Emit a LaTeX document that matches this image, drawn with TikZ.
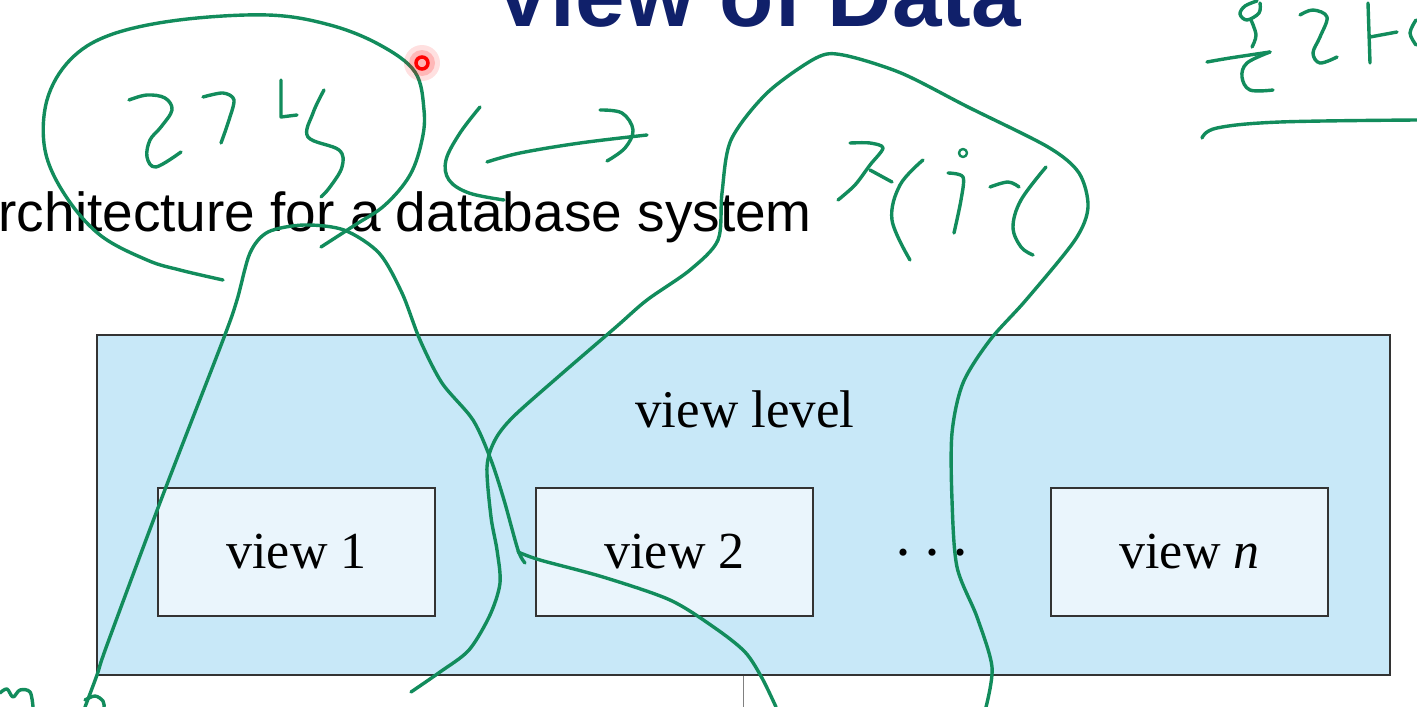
\documentclass[tikz,border=0pt]{standalone}
\usepackage{fontspec}
\setmainfont{Liberation Serif}
\newfontfamily\arialf{Liberation Sans}
\definecolor{boxblue}{HTML}{C8E8F8}
\definecolor{viewfill}{HTML}{EAF5FC}
\definecolor{navy}{HTML}{10206A}
\definecolor{pencolor}{HTML}{128C5C}
\definecolor{inkgray}{HTML}{333333}
\begin{document}
\begin{tikzpicture}[x=1pt,y=-1pt,
  txt/.style={inner sep=0pt},
  levelbox/.style={draw=inkgray, line width=1.8pt, fill=boxblue, minimum width=1293pt, minimum height=340pt, inner sep=0pt},
  viewbox/.style={draw=inkgray, line width=1.6pt, fill=viewfill, minimum width=277pt, minimum height=128pt, inner sep=0pt, font=\fontsize{52}{60}\selectfont},
  pen/.style={draw=pencolor, line width=3.4pt, line cap=round, line join=round},
  stub/.style={draw=gray, line width=1.8pt}]
\useasboundingbox (0,0) rectangle (1417,707);
\clip (0,0) rectangle (1417,707);
\fill[white] (0,0) rectangle (1417,707);

% title and subtitle
\node[txt, anchor=base west, font=\arialf\bfseries\fontsize{89}{90}\selectfont, text=navy] (title) at (493,26) {View of Data};
\node[txt, anchor=base east, font=\arialf\fontsize{55}{60}\selectfont] (sub) at (812,231) {rchitecture for a database system};

% diagram
\node[levelbox] (level) at (743.5,505) {};
\node[txt, anchor=base, font=\fontsize{53}{60}\selectfont] (lvl) at (745,427) {view level};
\node[viewbox] (v1) at (296.5,552) {view 1};
\node[viewbox] (v2) at (674.5,552) {view 2};
\node[viewbox] (vn) at (1189.5,552) {view \textit{n}};
\node[txt, anchor=base, font=\fontsize{60}{60}\selectfont] (dots) at (932,572) {·\hspace{9pt}·\hspace{9pt}·};
\coordinate (stubend) at (743.5,707);
\draw[stub] (level.south) -- (stubend);

% handwritten annotations
% oval around first word
\draw[pen] plot[smooth, tension=0.6] coordinates {(223,280) (180,270) (147,260) (100,235) (65,195) (45,150) (47,100) (70,60) (110,35) (179,20) (268,15) (330,25) (380,45) (415,72) (424,110) (422,140) (410,175) (385,205) (355,225) (321,247)};
% first word
\draw[pen] plot[smooth, tension=0.6] coordinates {(129,100) (147,95) (165,98) (172,110) (161,127) (150,140) (147,157) (156,167) (181,152)};
\draw[pen] plot[smooth, tension=0.5] coordinates {(203,97) (223,93) (234,100) (228,123) (221,143)};
\draw[pen] (281,80) -- (281,117) -- (297,115);
\draw[pen] plot[smooth, tension=0.6] coordinates {(324,90) (313,113) (308,137) (339,150) (342,167) (330,187) (321,197)};
% double arrow
\draw[pen] plot[smooth, tension=0.6] coordinates {(480,107) (460,133) (446,160) (449,180) (469,193) (504,200)};
\draw[pen] plot[smooth, tension=0.6] coordinates {(487,162) (520,153) (580,143) (647,135)};
\draw[pen] plot[smooth, tension=0.6] coordinates {(600,110) (622,113) (633,130) (625,148) (607,161)};
% long stroke from lower left
\draw[pen] plot[smooth, tension=0.5] coordinates {(85,707) (97,675) (107,645) (161,500) (223,340) (237,300) (250,253) (268,232) (304,225) (344,230) (379,253) (402,293) (420,340) (442,383) (473,420) (491,460) (504,500) (518,550) (525,563)};
\draw[pen] plot[smooth, tension=0.5] coordinates {(518,552) (540,560) (603,577) (670,600) (715,628) (745,652) (762,678) (776,707)};
% loop around second word
\draw[pen] plot[smooth, tension=0.5] coordinates {(411,692) (440,672) (469,650) (490,615) (500,583) (497,550) (491,517) (487,467) (495,440) (513,417) (558,377) (616,327) (647,300) (690,270) (718,240) (722,193) (731,140) (767,93) (816,58) (843,55) (901,73) (968,107) (1048,147) (1079,173) (1088,207) (1075,240) (1026,300) (990,340) (963,383) (952,433) (952,500) (957,567) (977,617) (992,667) (986,707)};
% second word
\draw[pen] plot[smooth, tension=0.5] coordinates {(850,143) (870,143) (883,148) (870,165) (855,185) (838,200)};
\draw[pen] (870,170) -- (892,182);
\draw[pen] plot[smooth, tension=0.6] coordinates {(923,160) (900,185) (892,220) (910,260)};
\draw[pen, line width=2.4pt] (963,153) circle (4);
\draw[pen] plot[smooth, tension=0.5] coordinates {(948,173) (963,177) (961,200) (954,233)};
\draw[pen] plot[smooth, tension=0.6] coordinates {(990,187) (1008,182) (1019,187)};
\draw[pen] plot[smooth, tension=0.6] coordinates {(1046,167) (1021,200) (1013,227) (1021,247) (1033,255)};
% top right word and underline
\draw[pen] plot[smooth, tension=0.6] coordinates {(1257,1) (1245,6) (1240,14) (1247,20) (1259,13) (1260,3)};
\draw[pen] plot[smooth, tension=0.6] coordinates {(1251,20) (1256,35) (1252,47)};
\draw[pen] plot[smooth, tension=0.6] coordinates {(1207,62) (1230,58) (1270,52)};
\draw[pen] plot[smooth, tension=0.6] coordinates {(1270,52) (1247,63) (1242,77) (1250,90) (1273,90)};
\draw[pen] plot[smooth, tension=0.6] coordinates {(1300,15) (1313,10) (1327,17) (1320,37) (1313,53) (1320,63) (1337,57)};
\draw[pen] (1368,3) -- (1370,63);
\draw[pen] (1370,37) -- (1397,32);
\draw[pen] plot[smooth, tension=0.6] coordinates {(1416,20) (1410,33) (1416,45)};
\draw[pen] plot[smooth, tension=0.6] coordinates {(1202,138) (1217,128) (1280,122) (1417,120)};
% bottom left fragments
\draw[pen] plot[smooth, tension=0.6] coordinates {(0,693) (7,689) (13,697) (20,690) (30,692) (33,707)};
\draw[pen] plot[smooth, tension=0.6] coordinates {(85,700) (95,696) (103,701) (104,707)};

% red pointer
\fill[red, opacity=0.12] (422,63) circle (18);
\fill[red, opacity=0.18] (422,63) circle (13);
\fill[red!30] (422,63) circle (7);
\draw[red, line width=3.5pt] (422,63) circle (6);
\end{tikzpicture}
\end{document}
